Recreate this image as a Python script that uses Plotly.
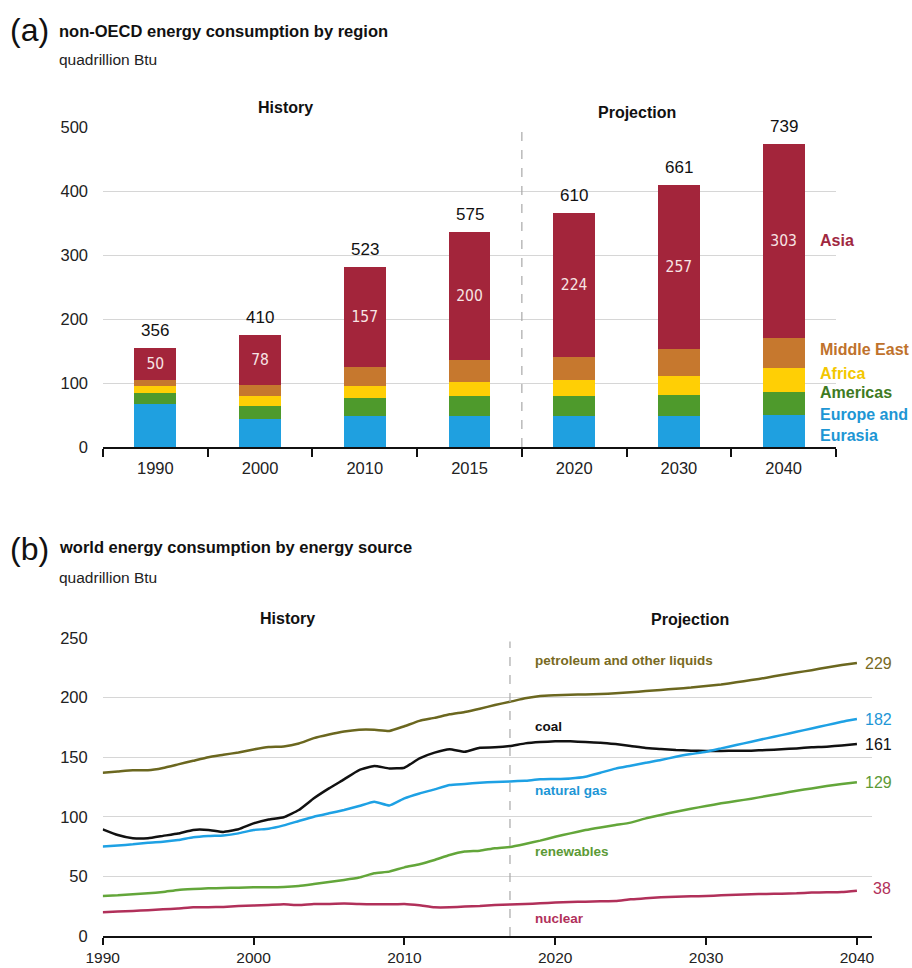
import plotly.graph_objects as go

# ---- (a) non-OECD energy consumption by region (quadrillion Btu) ----
years_a = ["1990", "2000", "2010", "2015", "2020", "2030", "2040"]
europe_eurasia = [67, 43, 48, 48, 48, 48, 50]
americas = [17, 21, 29, 31, 31, 33, 36]
africa = [11, 16, 18, 23, 25, 30, 37]
middle_east = [10, 17, 30, 34, 37, 42, 48]
asia = [50, 78, 157, 200, 224, 257, 303]
world_total = [356, 410, 523, 575, 610, 661, 739]

# ---- (b) world energy consumption by energy source (quadrillion Btu) ----
years_b = list(range(1990, 2041))
petroleum = [137, 138, 139, 139, 141, 144, 147, 150, 152, 154,
             156.5, 158.5, 159, 161.5, 166, 169, 171.5, 173, 173, 172,
             176, 180.5, 183, 186, 188, 190.7, 193.8, 196.5, 199.4, 201.4,
             202, 202.4, 202.6, 203, 203.6, 204.4, 205.5, 206.4, 207.5, 208.4,
             209.7, 211, 212.8, 214.7, 216.7, 219, 221, 223, 225.3, 227.3,
             229]
coal = [89.5, 84.7, 82, 82, 84, 86, 89, 89, 87.3, 89.5,
        94.5, 97.8, 99.6, 105.7, 115.5, 123.8, 131.4, 139.2, 142.6, 140.6,
        141.2, 149, 153.8, 156.6, 154.6, 158, 158.3, 159.4, 161.6, 162.7,
        163.3, 163.3, 162.7, 162.2, 161, 159.4, 157.7, 156.9, 156, 155.5,
        155.2, 155.2, 155.5, 155.5, 156, 156.6, 157.4, 158.3, 158.8, 159.9,
        161]
natural_gas = [75, 76, 76.9, 78.3, 79.1, 80.5, 82.8, 83.9, 84.4, 86.1,
               88.9, 90, 92.8, 96.5, 100.1, 102.9, 105.7, 109, 112.7, 109.5,
               115.5, 119.6, 123, 126.6, 127.5, 128.6, 129.2, 129.6, 130.3, 131.4,
               131.7, 132.2, 133.6, 137, 140.4, 142.9, 145.4, 147.6, 150.4, 152.6,
               154.6, 157.4, 160.2, 163, 165.8, 168.5, 171.3, 174.1, 176.9, 179.7,
               182]
renewables = [33.6, 34.1, 35, 35.8, 36.9, 38.6, 39.4, 40, 40.3, 40.5,
              40.8, 40.8, 41.1, 42, 43.6, 45.3, 47, 49, 52.6, 54,
              57.6, 60.2, 63.8, 68, 70.8, 71.6, 73.6, 74.7, 77.2, 80,
              83.3, 86.1, 88.9, 91.1, 93.1, 95.1, 98.7, 101.5, 104.3, 106.8,
              109, 111.3, 113.2, 115.2, 117.4, 119.6, 121.9, 123.8, 125.8, 127.5,
              129]
nuclear = [19.9, 20.5, 21, 21.6, 22.4, 23, 24.1, 24.1, 24.4, 25.2,
           25.5, 26, 26.6, 26, 26.9, 26.9, 27.2, 26.9, 26.6, 26.6,
           26.9, 25.8, 24.1, 24.1, 24.7, 25.2, 26, 26.5, 26.9, 27.4,
           28, 28.5, 28.8, 29.1, 29.4, 30.8, 31.6, 32.5, 33, 33.3,
           33.6, 34.1, 34.7, 35, 35.3, 35.5, 35.8, 36.4, 36.6, 36.9,
           38]

FONT = "Liberation Sans, Arial, sans-serif"
CONDENSED = "DejaVu Sans Condensed, Liberation Sans, sans-serif"
W, H = 912, 968

region_series = [
    ("Europe and<br>Eurasia", europe_eurasia, "#1fa0e0", "#1e96d4"),
    ("Americas", americas, "#4e9a2c", "#3e7a22"),
    ("Africa", africa, "#ffcf05", "#f3c700"),
    ("Middle East", middle_east, "#c6782e", "#bf722c"),
    ("Asia", asia, "#a3253b", "#a0283f"),
]

source_series = [
    ("petroleum and other liquids", petroleum, "#6b671f", "#786a22"),
    ("coal", coal, "#111111", "#111111"),
    ("natural gas", natural_gas, "#1ea1e4", "#1d96d6"),
    ("renewables", renewables, "#63a63a", "#5c9a36"),
    ("nuclear", nuclear, "#b1305a", "#b1305a"),
]

fig = go.Figure()

# stacked bars, panel (a)
for name, vals, color, _ in region_series:
    is_asia = name == "Asia"
    fig.add_trace(go.Bar(
        x=years_a, y=vals, name=name, marker=dict(color=color, line=dict(width=0)),
        width=0.4, xaxis="x", yaxis="y", showlegend=False,
        text=[str(v) for v in vals] if is_asia else None,
        textposition="inside" if is_asia else "none",
        insidetextanchor="middle", textangle=0, constraintext="none",
        textfont=dict(family=CONDENSED, size=15.5, color="#f7e4e4"),
        hoverinfo="x+y+name",
    ))

# lines, panel (b)
for name, vals, color, _ in source_series:
    fig.add_trace(go.Scatter(
        x=years_b, y=vals, mode="lines", name=name,
        line=dict(color=color, width=2.5, shape="spline", smoothing=0.4),
        xaxis="x2", yaxis="y2", showlegend=False,
    ))

ann = []

# totals above each bar (category index used as the x position)
for i, yr in enumerate(years_a):
    top = sum(s[1][i] for s in region_series)
    ann.append(dict(x=i, y=top, xref="x", yref="y", text=str(world_total[i]),
                    showarrow=False, yanchor="bottom", yshift=6,
                    font=dict(family=FONT, size=17, color="#111")))

# region names on the right of panel (a)
label_y_a = {"Asia": 322, "Middle East": 153, "Africa": 115, "Americas": 85,
             "Europe and<br>Eurasia": 35}
for name, vals, _, tcolor in region_series:
    ann.append(dict(x=818 / W, y=label_y_a[name], xref="paper", yref="y",
                    text=f"<b>{name}</b>", showarrow=False, xanchor="left",
                    align="left", font=dict(family=FONT, size=16, color=tcolor)))

# series names inside panel (b)
label_y_b = {"petroleum and other liquids": 231, "coal": 175.6,
             "natural gas": 122, "renewables": 70.7, "nuclear": 14.8}
for name, vals, _, tcolor in source_series:
    ann.append(dict(x=2018.5, y=label_y_b[name], xref="x2", yref="y2",
                    text=f"<b>{name}</b>", showarrow=False, xanchor="left",
                    font=dict(family=FONT, size=13.5, color=tcolor)))
    ann.append(dict(x=2040, y=vals[-1], xref="x2", yref="y2",
                    text=f"{vals[-1]:g}", showarrow=False, xanchor="left",
                    xshift=6 if name != "nuclear" else 14,
                    yshift=0 if name != "nuclear" else 2,
                    font=dict(family=FONT, size=16, color=tcolor)))

# panel titles
for y_letter, y_title, y_unit, letter, title in [
        (30, 31, 59, "(a)", "non-OECD energy consumption by region"),
        (549, 547, 577, "(b)", "world energy consumption by energy source")]:
    ann.append(dict(x=8 / W, y=1 - y_letter / H, xref="paper", yref="paper",
                    text=letter, showarrow=False, xanchor="left", yanchor="middle",
                    font=dict(family=FONT, size=32, color="#111")))
    ann.append(dict(x=57 / W, y=1 - y_title / H, xref="paper", yref="paper",
                    text=f"<b>{title}</b>", showarrow=False, xanchor="left",
                    yanchor="middle", font=dict(family=FONT, size=16.5, color="#111")))
    ann.append(dict(x=57 / W, y=1 - y_unit / H, xref="paper", yref="paper",
                    text="quadrillion Btu", showarrow=False, xanchor="left",
                    yanchor="middle", font=dict(family=FONT, size=15.5, color="#222")))

# History / Projection headers
for x_px, y_px, txt in [(285, 108, "History"), (637, 112, "Projection"),
                        (287, 618, "History"), (690, 619, "Projection")]:
    ann.append(dict(x=x_px / W, y=1 - y_px / H, xref="paper", yref="paper",
                    text=f"<b>{txt}</b>", showarrow=False, xanchor="center",
                    yanchor="middle", font=dict(family=FONT, size=16, color="#111")))

shapes = [
    dict(type="line", xref="x", yref="y", x0=3.5, x1=3.5, y0=0, y1=505,
         line=dict(color="#a8a8a8", width=1.2, dash="dash")),
    dict(type="line", xref="x2", yref="y2", x0=2017, x1=2017, y0=0, y1=247,
         line=dict(color="#a8a8a8", width=1.2, dash="dash")),
]

ytickfont = dict(family=FONT, size=16.5, color="#222")

fig.update_layout(
    width=W, height=H, margin=dict(l=0, r=0, t=0, b=0, pad=0, autoexpand=False),
    paper_bgcolor="white", plot_bgcolor="white",
    barmode="stack", bargap=0.6,
    annotations=ann, shapes=shapes,
    xaxis=dict(domain=[103 / W, 836 / W], anchor="y", type="category",
               categoryorder="array", categoryarray=years_a,
               range=[-0.5, len(years_a) - 0.5], autorange=False, automargin=False,
               showline=True, linecolor="#111", linewidth=2, tickangle=0,
               ticks="outside", tickson="boundaries", ticklen=8, tickwidth=1.5,
               tickcolor="#111", showgrid=False, ticklabelstandoff=5,
               tickfont=dict(family=FONT, size=16.5, color="#222")),
    yaxis=dict(domain=[(H - 447) / H, (H - 127) / H], anchor="x", range=[0, 500],
               tickvals=[0, 100, 200, 300, 400, 500], showgrid=True, automargin=False,
               gridcolor="#d6d6d6", gridwidth=1, zeroline=False,
               ticks="", ticklabelstandoff=14, tickfont=ytickfont),
    xaxis2=dict(domain=[102.7 / W, 872 / W], anchor="y2", range=[1990, 2041],
                tickvals=[1990, 2000, 2010, 2020, 2030, 2040], automargin=False,
                showline=True, linecolor="#111", linewidth=2,
                ticks="outside", ticklen=7, tickwidth=1.5, tickcolor="#111",
                showgrid=False, ticklabelstandoff=-1,
                tickfont=dict(family=FONT, size=15.5, color="#222")),
    yaxis2=dict(domain=[(H - 936) / H, (H - 638) / H], anchor="x2", range=[0, 250],
                tickvals=[0, 50, 100, 150, 200, 250], showgrid=True, automargin=False,
                gridcolor="#d6d6d6", gridwidth=1, zeroline=False,
                ticks="", ticklabelstandoff=14, tickfont=ytickfont),
)

fig.write_html("out.html")
